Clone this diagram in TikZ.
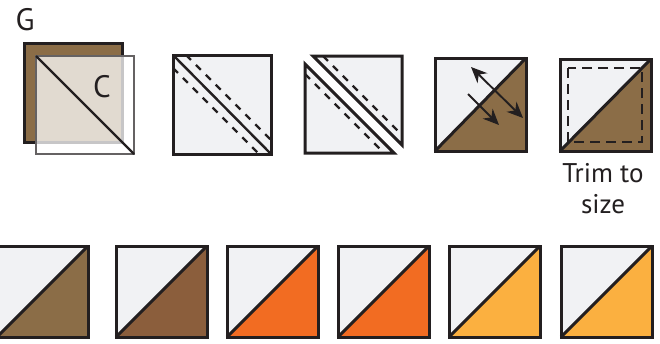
\documentclass[tikz,border=0pt]{standalone}
\usepackage{fontspec}
\setmainfont{PT Sans}
\usetikzlibrary{arrows.meta}
\definecolor{ink}{HTML}{231F20}
\definecolor{patchgray}{HTML}{F1F2F4}
\definecolor{fabricbrown}{HTML}{8B6D47}
\definecolor{darkbrown}{HTML}{8B5E3C}
\definecolor{fabricorange}{HTML}{F26C22}
\definecolor{lightorange}{HTML}{FBB040}

\begin{document}
\begin{tikzpicture}[x=1pt, y=-1pt,
  patch/.style={draw=ink, line width=3pt},
  seam/.style={ink, line width=2.4pt, dash pattern=on 7pt off 7pt},
  trimline/.style={ink, line width=1.2pt, dash pattern=on 10pt off 6pt},
  pressarrow/.style={ink, line width=1.9pt},
  label/.style={font=\fontsize{31}{37}\selectfont, text=ink, inner sep=0pt, anchor=base}]

  \useasboundingbox (0,0) rectangle (660,343);

  % G and C placed right sides together
  \node[label] (g) at (25,30) {G};
  \filldraw[patch, fill=fabricbrown] (24,43) rectangle (122,142);
  \filldraw[draw=ink!70, line width=2.2pt, fill=white, fill opacity=0.75] (36,56) rectangle (134,154);
  \draw[ink, line width=2.4pt] (36,56) -- (134,154);
  \node[label] (c) at (102,97) {C};

  % sew on both sides of the line
  \filldraw[patch, fill=patchgray] (173,55) rectangle (271,154);
  \draw[ink, line width=2.4pt] (173,55) -- (271,154);
  \draw[seam] (186,55) -- (271,140);
  \draw[seam] (173,68) -- (259,154);

  % cut apart
  \filldraw[patch, fill=patchgray] (305,64) -- (305,153) -- (394,153) -- cycle;
  \filldraw[patch, fill=patchgray] (313,56) -- (402,56) -- (402,145) -- cycle;
  \draw[seam] (305,74) -- (384,153);
  \draw[seam] (323,56) -- (402,135);

  % press open
  \fill[patchgray] (435,58) rectangle (526,151);
  \fill[fabricbrown] (435,151) -- (526,58) -- (526,151) -- cycle;
  \draw[patch] (435,58) rectangle (526,151);
  \draw[patch] (435,151) -- (526,58);
  \draw[pressarrow, {Stealth[length=16pt, width=14pt]}-{Stealth[length=16pt, width=14pt]}] (471,67) -- (523,118);
  \draw[pressarrow, -{Stealth[length=16pt, width=14pt]}] (468,94) -- (499,125);

  % trim
  \fill[patchgray] (560,59) rectangle (651,151);
  \fill[fabricbrown] (560,151) -- (651,59) -- (651,151) -- cycle;
  \draw[patch] (560,59) rectangle (651,151);
  \draw[patch] (560,151) -- (651,59);
  \draw[trimline] (568,68) rectangle (642,142);
  \node[label, font=\fontsize{27}{32}\selectfont] (trim) at (603,182) {Trim to};
  \node[label, font=\fontsize{27}{32}\selectfont] (size) at (603,213) {size};

  % finished half-square triangles
  \foreach \x/\col in {-3/fabricbrown, 116/darkbrown, 227/fabricorange, 338/fabricorange, 449/lightorange, 561/lightorange} {
    \fill[patchgray] (\x,246) rectangle ++(91,91);
    \fill[\col] (\x,337) -- ++(91,-91) -- ++(0,91) -- cycle;
    \draw[patch] (\x,246) rectangle ++(91,91);
    \draw[patch] (\x,337) -- ++(91,-91);
  }
\end{tikzpicture}
\end{document}
